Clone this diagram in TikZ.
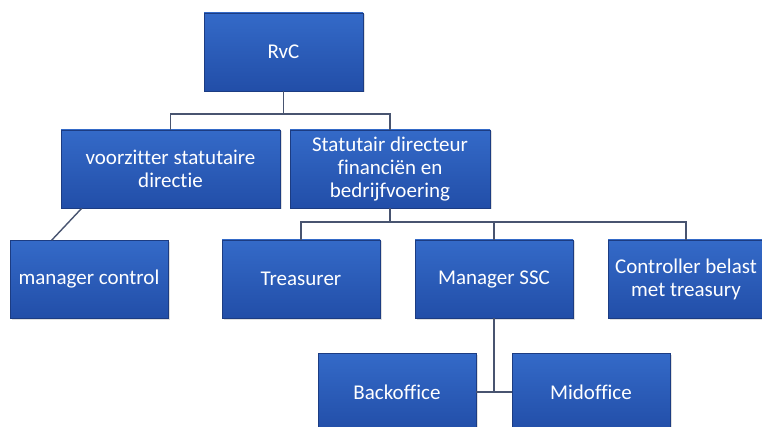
\documentclass[tikz,border=0pt]{standalone}
\usepackage{fontspec}
\setmainfont{Carlito}[Ligatures=NoCommon, RawFeature=-calt, RawFeature=-clig]
\usepackage{tikz}
\usetikzlibrary{positioning, shadows}

\definecolor{boxtop}{RGB}{52,106,200}
\definecolor{boxbot}{RGB}{34,78,168}
\definecolor{boxedge}{RGB}{28,60,130}
\definecolor{linkcol}{RGB}{72,84,112}

\begin{document}
\begin{tikzpicture}[x=1pt,y=-1pt,
        unit/.style={rectangle, top color=boxtop, bottom color=boxbot, draw=boxedge, line width=0.6pt,
            minimum width=158, minimum height=78, inner sep=2pt, text=white, align=center,
            font=\fontsize{21}{23}\selectfont,
            drop shadow={shadow xshift=1.5pt, shadow yshift=-1.5pt, opacity=0.25}},
        link/.style={draw=linkcol, line width=1.4pt}]
        \clip (0,0) rectangle (762,427);
        \fill[white] (0,0) rectangle (762,427);

        \node[unit, minimum width=159] (rvc) at (283.5, 52) {RvC};
        \node[unit, minimum width=219] (vz) at (170.5, 169) {voorzitter statutaire\\directie};
        \node[unit, minimum width=200] (sd) at (390, 169) {Statutair directeur\\financiën en\\bedrijfvoering};
        \node[unit] (mc) at (89, 279.5) {manager control};
        \node[unit] (tr) at (301, 279) {Treasurer};
        \node[unit] (ssc) at (494, 279) {Manager SSC};
        \node[unit, minimum width=156] (ctl) at (686, 279) {Controller belast\\met treasury};
        \node[unit] (bo) at (397, 392) {Backoffice};
        \node[unit] (mo) at (591, 392) {Midoffice};

        \coordinate (j1) at (283.5, 114);
        \coordinate (j2) at (390, 222);
        \coordinate (j3) at (494, 392);

        % board to directie
        \path[link] (rvc.south) -- (j1)
            (vz.north) |- (j1) -| (sd.north);
        \path[link] ([xshift=21pt]vz.south west) -- ([xshift=42pt]mc.north west);
        % directeur to staff
        \path[link] (sd.south) -- (j2)
            (tr.north) |- (j2) -| (ctl.north)
            (ssc.north) -- (ssc.north |- j2);
        \path[link] (ssc.south) -- (j3)
            (bo.east) -- (mo.west);
    \end{tikzpicture}
\end{document}
